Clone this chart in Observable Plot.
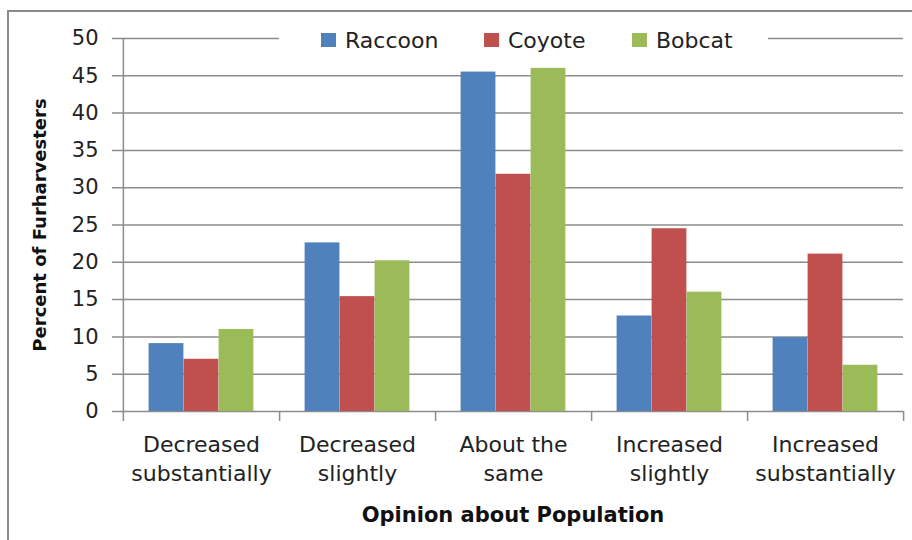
<!DOCTYPE html>
<html>
<head>
<meta charset="utf-8">
<script src="https://cdn.jsdelivr.net/npm/d3@7"></script>
<script src="https://cdn.jsdelivr.net/npm/@observablehq/plot@0.6"></script>
<style>
  html, body { margin: 0; padding: 0; background: #fff; overflow: hidden; }
  #wrap { position: relative; width: 912px; height: 540px; overflow: hidden; font-family: "DejaVu Sans", sans-serif; }
  #border { position: absolute; left: 7px; top: 10px; width: 940px; height: 600px; border: 2px solid #8a8a8a; box-sizing: border-box; pointer-events: none; }
  #legend { position: absolute; left: 279px; top: 27px; width: 489px; height: 26px; background: #fff; }
  .item { position: absolute; top: 0; height: 26px; display: flex; align-items: center; font-size: 22px; color: #222; white-space: nowrap; }
  .sw { width: 15px; height: 14px; margin-right: 9px; }
  #chart { position: absolute; left: 0; top: 0; }
</style>
</head>
<body>
<div id="wrap">
  <div id="chart"></div>
  <div id="legend"></div>
  <div id="border"></div>
</div>
<script>
const categories = ["Decreased substantially", "Decreased slightly", "About the same", "Increased slightly", "Increased substantially"];
const labelLine1 = ["Decreased", "Decreased", "About the", "Increased", "Increased"];
const labelLine2 = ["substantially", "slightly", "same", "slightly", "substantially"];
const seriesNames = ["Raccoon", "Coyote", "Bobcat"];
const seriesColors = ["#4F81BD", "#C0504D", "#9BBB59"];
const raccoon = [9.1, 22.6, 45.5, 12.8, 9.9];
const coyote = [7.0, 15.4, 31.8, 24.5, 21.1];
const bobcat = [11.0, 20.2, 46.0, 16.0, 6.2];
const yTicks = [0, 5, 10, 15, 20, 25, 30, 35, 40, 45, 50];
const yTitle = "Percent of Furharvesters";
const xTitle = "Opinion about Population";

const seriesValues = [raccoon, coyote, bobcat];
const data = [];
seriesNames.forEach((s, si) => categories.forEach((c, ci) => data.push({category: c, series: s, value: seriesValues[si][ci]})));

const W = 912, H = 540, mL = 122, mR = 9, mT = 38, mB = 129;
const step = (W - mL - mR) / categories.length;
const barW = step * 0.224;
const pad = (step - 3 * barW) / 2;
const frameH = H - mT - mB;
const gray = "#8c8c8c";

const barMarks = seriesNames.map((s, si) =>
  Plot.barY(data.filter(d => d.series === s), {
    x: "category", y: "value", fill: seriesColors[si],
    insetLeft: pad + si * barW, insetRight: step - pad - (si + 1) * barW
  })
);

const chart = Plot.plot({
  width: W, height: H,
  marginLeft: mL, marginRight: mR, marginTop: mT, marginBottom: mB,
  style: {fontFamily: "DejaVu Sans, sans-serif", fontSize: "21px", color: "#222", background: "transparent"},
  x: {domain: categories, padding: 0, axis: null},
  y: {domain: [0, 50], axis: null},
  marks: [
    Plot.ruleY(yTicks, {y: d => d, stroke: gray, strokeWidth: 1.5, insetLeft: -10}),
    Plot.text(yTicks, {y: d => d, text: d => String(d), frameAnchor: "left", dx: -24, textAnchor: "end", fill: "#222", fontSize: 21}),
    ...barMarks,
    Plot.ruleX(categories.slice(0, 1), {x: d => d, dx: -step / 2, stroke: gray, strokeWidth: 1.5, insetBottom: -10}),
    Plot.ruleX(categories, {x: d => d, dx: step / 2, stroke: gray, strokeWidth: 1.5, insetTop: frameH, insetBottom: -10}),
    Plot.text(categories, {x: d => d, text: (d, i) => labelLine1[i], frameAnchor: "bottom", dy: 40, fill: "#222", fontSize: 22}),
    Plot.text(categories, {x: d => d, text: (d, i) => labelLine2[i], frameAnchor: "bottom", dy: 69, fill: "#222", fontSize: 22}),
    Plot.text([xTitle], {text: d => d, frameAnchor: "bottom", dy: 110, fontWeight: "bold", fontSize: 21, fill: "#111"}),
    Plot.text([yTitle], {text: d => d, frameAnchor: "left", dx: -82, rotate: -90, textAnchor: "middle", fontWeight: "bold", fontSize: 18, fill: "#111"})
  ]
});
document.getElementById("chart").appendChild(chart);

const legendLefts = [321, 484, 632];
const legend = document.getElementById("legend");
seriesNames.forEach((s, i) => {
  const item = document.createElement("div");
  item.className = "item";
  item.style.left = (legendLefts[i] - 279) + "px";
  const sw = document.createElement("span");
  sw.className = "sw";
  sw.style.background = seriesColors[i];
  const t = document.createElement("span");
  t.textContent = s;
  item.appendChild(sw);
  item.appendChild(t);
  legend.appendChild(item);
});
</script>
</body>
</html>
